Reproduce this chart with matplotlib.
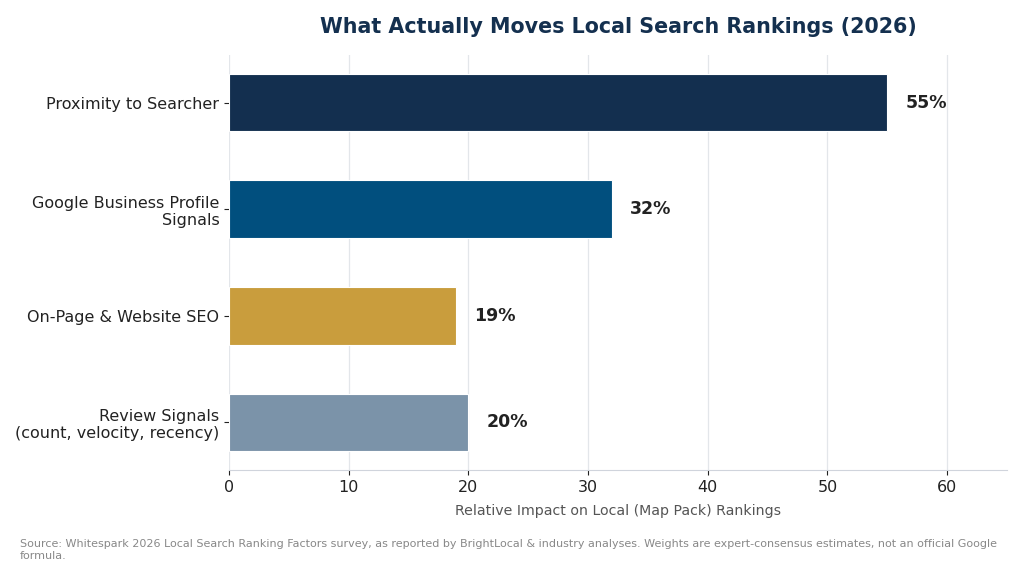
import matplotlib
matplotlib.use("Agg")
import matplotlib.pyplot as plt

plt.rcParams["font.family"] = ["DejaVu Sans"]

categories = ["Proximity to Searcher", "Google Business Profile\nSignals",
              "On-Page & Website SEO", "Review Signals\n(count, velocity, recency)"]
values = [55, 32, 19, 20]
colors = ["#132f4f", "#014f7e", "#c99d3d", "#7b93a9"]

fig = plt.figure(figsize=(10.24, 5.69), dpi=100)
ax = fig.add_axes([229/1024, 1-470/569, (1007-229)/1024, (470-55)/569])
ypos = list(range(len(categories)))
ax.barh(ypos, values, height=0.54, color=colors, edgecolor="white", linewidth=0.8, zorder=3)
ax.set_yticks(ypos)
ax.set_yticklabels(categories, fontsize=11.5, color="#222222")
ax.invert_yaxis()
ax.set_xlim(0, 65)
ax.set_xticks([0, 10, 20, 30, 40, 50, 60])
ax.tick_params(axis="x", labelsize=11.5, colors="#222222")
ax.tick_params(axis="y", colors="#222222")
ax.grid(axis="x", color="#e3e6ea", linewidth=0.9, zorder=0)
ax.set_axisbelow(True)
for s in ["top", "right", "left"]:
    ax.spines[s].set_visible(False)
ax.spines["bottom"].set_color("#d0d4dc")
for y, v in zip(ypos, values):
    ax.text(v + 1.5, y, f"{v}%", va="center", ha="left", fontsize=12.5, fontweight="bold", color="#222222")
ax.set_xlabel("Relative Impact on Local (Map Pack) Rankings", fontsize=10.2, color="#555555", labelpad=7)
ax.set_title("What Actually Moves Local Search Rankings (2026)", fontsize=14.9, fontweight="bold",
             color="#14304f", pad=16)
fig.text(20/1024, 1-550/569,
         "Source: Whitespark 2026 Local Search Ranking Factors survey, as reported by BrightLocal & industry analyses. Weights are expert-consensus estimates, not an official Google\nformula.",
         fontsize=8, color="#888888", va="center", ha="left", linespacing=1.3)
fig.savefig("out.png", dpi=100)
